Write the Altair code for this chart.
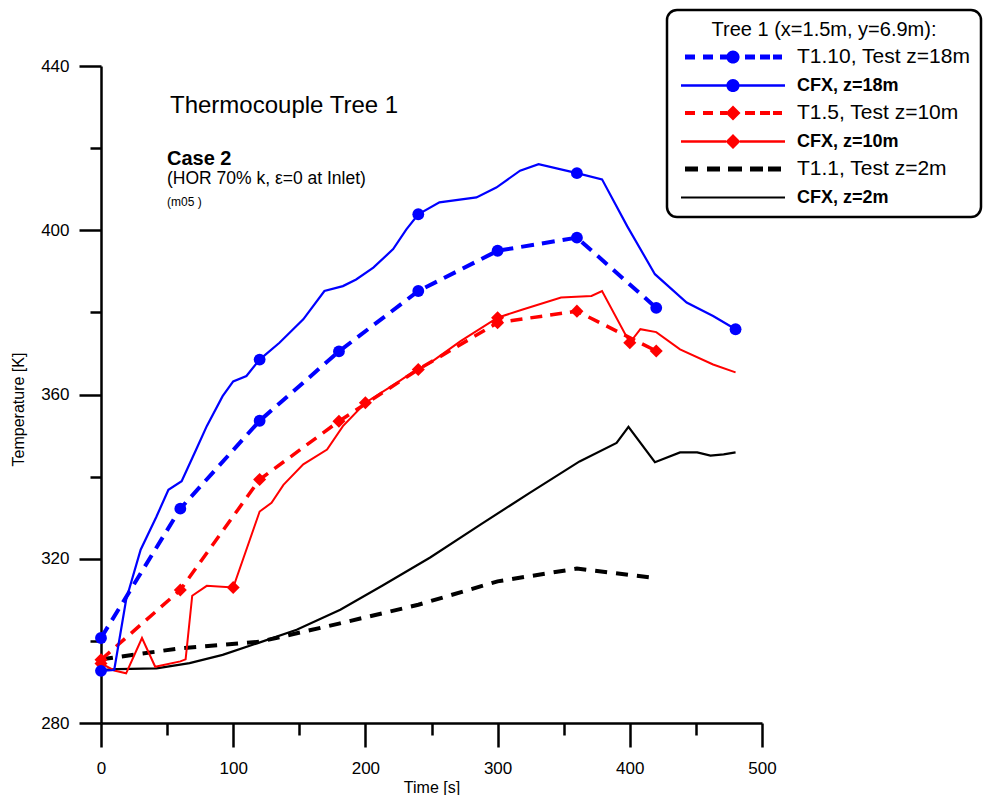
import altair as alt
import pandas as pd

FONT = "Liberation Sans"

# ---------------- data ----------------
series_names = [
    "T1.10, Test z=18m", "CFX, z=18m",
    "T1.5, Test z=10m", "CFX, z=10m",
    "T1.1, Test z=2m", "CFX, z=2m",
]
series_colors = ["#0000ff", "#0000ff", "#ff0000", "#ff0000", "#000000", "#000000"]

test_times = [0, 60, 120, 180, 240, 300, 360, 420]
test_z18 = [300.7, 332.2, 353.6, 370.5, 385.2, 395.0, 398.2, 381.1]
test_z10 = [295.4, 312.4, 339.3, 353.5, 366.1, 377.5, 380.3, 370.6]
test_z2 = [295.5, 298.2, 299.8, 304.2, 308.8, 314.5, 317.6, 315.3]

cfx_z18_t = [0, 10, 19, 30, 42, 51, 61, 72, 80, 92, 100, 110, 120, 135, 153, 169, 183,
             193, 206, 221, 231, 240, 256, 284, 299, 317, 331, 360, 379, 398, 419, 443,
             463, 480]
cfx_z18_v = [292.7, 292.9, 310.0, 322.2, 330.3, 336.8, 338.9, 346.6, 352.3, 359.6, 363.2,
             364.5, 368.5, 372.6, 378.3, 385.2, 386.4, 388.0, 390.9, 395.4, 400.2, 403.9,
             406.8, 408.0, 410.4, 414.5, 416.1, 413.9, 412.4, 401.0, 389.3, 382.4, 379.1,
             375.9]

cfx_z10_t = [0, 10, 19, 31, 41, 60, 64, 69, 80, 100, 120, 129, 138, 153, 171, 183, 200,
             224, 236, 249, 272, 300, 319, 348, 371, 379, 400, 408, 420, 438, 463, 480]
cfx_z10_v = [294.5, 292.8, 292.1, 300.7, 293.7, 295.0, 295.5, 311.0, 313.4, 313.0, 331.5,
             333.6, 338.0, 343.0, 346.6, 352.3, 358.0, 362.9, 365.5, 367.7, 373.0, 378.7,
             380.7, 383.6, 384.0, 385.2, 372.6, 375.9, 375.2, 371.0, 367.3, 365.4]

cfx_z2_t = [0, 12, 42, 67, 92, 118, 148, 181, 213, 249, 287, 324, 362, 390, 399, 419, 438,
            451, 461, 471, 480]
cfx_z2_v = [292.9, 293.1, 293.3, 294.6, 296.6, 299.4, 302.7, 307.6, 313.5, 320.3, 328.3,
            336.0, 343.7, 348.2, 352.1, 343.5, 345.9, 345.9, 345.1, 345.4, 345.9]

cfx_z18_marker_times = [0, 120, 240, 360, 480]
cfx_z10_marker_times = [0, 100, 200, 300, 400]

x_ticks = list(range(0, 501, 50))
y_ticks = list(range(280, 441, 20))

# ---------------- table ----------------
series_data = [
    (series_names[0], test_times, test_z18),
    (series_names[1], cfx_z18_t, cfx_z18_v),
    (series_names[2], test_times, test_z10),
    (series_names[3], cfx_z10_t, cfx_z10_v),
    (series_names[4], test_times, test_z2),
    (series_names[5], cfx_z2_t, cfx_z2_v),
]
rows = []
for name, ts, vs in series_data:
    for t, v in zip(ts, vs):
        rows.append({"series": name, "time": t, "temp": v})
df = pd.DataFrame(rows)

# ---------------- legend symbols (custom paths) ----------------
LEG_PAD = 10
R = 12.0                    # px per path unit (symbolSize 576 -> sqrt/2 = 12)
C = 667.0 + LEG_PAD + 12.0  # page x of the symbol centre


def _u(px):
    return f"{(px - C) / R:.4f}"


def rect(x0, x1, hw):
    return (f"M{_u(x0)},{-hw / R:.4f}H{_u(x1)}V{hw / R:.4f}H{_u(x0)}Z")


def circle(cx, r):
    rr = f"{r / R:.4f}"
    return (f"M{_u(cx - r)},0A{rr},{rr} 0 1 1 {_u(cx + r)},0"
            f"A{rr},{rr} 0 1 1 {_u(cx - r)},0Z")


def diamond(cx, r):
    return (f"M{_u(cx - r)},0L{_u(cx)},{-r / R:.4f}L{_u(cx + r)},0"
            f"L{_u(cx)},{r / R:.4f}Z")


dash_marker = [(685, 695), (703, 713), (720, 727), (745, 755), (760, 770), (773, 782)]
dash_plain = [(685, 698), (707, 720), (728, 742), (750, 763), (768, 781)]

sym_test18 = "".join(rect(a, b, 2.4) for a, b in dash_marker) + circle(733, 6.6)
sym_cfx18 = rect(681, 727, 1.3) + rect(739, 785, 1.3) + circle(733, 6.6)
sym_test10 = "".join(rect(a, b, 2.0) for a, b in dash_marker) + diamond(733, 7.5)
sym_cfx10 = rect(681, 726, 1.3) + rect(740, 785, 1.3) + diamond(733, 7.5)
sym_test2 = "".join(rect(a, b, 2.4) for a, b in dash_plain)
sym_cfx2 = rect(681, 785, 1.1)
symbol_paths = [sym_test18, sym_cfx18, sym_test10, sym_cfx10, sym_test2, sym_cfx2]

# ---------------- encodings ----------------
x_axis = alt.Axis(
    values=x_ticks, title="Time [s]", orient="bottom",
    labelExpr="datum.value % 100 === 0 ? datum.label : ''",
    tickSize={"condition": {"test": "datum.value % 100 === 0", "value": 24}, "value": 12},
    labelPadding=13, labelFlush=False, labelOverlap=False, grid=False,
    titleY=64, titleBaseline="middle",
)
y_axis = alt.Axis(
    values=y_ticks, title="Temperature [K]", orient="left",
    labelExpr="datum.value % 40 === 0 ? datum.label : ''",
    tickSize={"condition": {"test": "datum.value % 40 === 0", "value": 22}, "value": 11},
    labelPadding=10, labelFlush=False, labelOverlap=False, grid=False,
    titleX=-83, titleY=343, titleBaseline="middle", titleAngle=270,
)
X = alt.X("time:Q", scale=alt.Scale(domain=[0, 500], nice=False, zero=False), axis=x_axis)
Y = alt.Y("temp:Q", scale=alt.Scale(domain=[280, 440], nice=False, zero=False), axis=y_axis)

IS_CFX = "(datum.value ? indexof(datum.value, 'CFX') : 1) === 0"
legend = alt.Legend(
    title="Tree 1 (x=1.5m, y=6.9m):",
    orient="none", legendX=566, legendY=-56,
    padding=LEG_PAD, cornerRadius=10, strokeColor="black", fillColor="white",
    titleFont=FONT, titleFontSize=20, titleFontWeight="normal", titleColor="black",
    titleAnchor="middle", titleAlign="center", titleLimit=400, titlePadding=5,
    labelFont=FONT, labelColor="black", labelLimit=400, labelOffset=96,
    labelFontSize={"expr": f"{IS_CFX} ? 18 : 21"},
    labelFontWeight={"expr": f"{IS_CFX} ? 'bold' : 'normal'"},
    symbolSize=576, symbolStrokeWidth=0, symbolOffset=0, symbolOpacity=1,
    rowPadding=6.5,
)

base = alt.Chart(df)

legend_layer = base.mark_point(filled=True, opacity=1, size=0).encode(
    x=X, y=Y,
    color=alt.Color("series:N", scale=alt.Scale(domain=series_names, range=series_colors),
                    legend=legend),
    shape=alt.Shape("series:N", scale=alt.Scale(domain=series_names, range=symbol_paths),
                    legend=legend),
)

line_styles = {
    series_names[0]: dict(color="#0000ff", strokeWidth=4, strokeDash=[13, 8]),
    series_names[1]: dict(color="#0000ff", strokeWidth=2.2),
    series_names[2]: dict(color="#ff0000", strokeWidth=3.5, strokeDash=[12, 8]),
    series_names[3]: dict(color="#ff0000", strokeWidth=2.0),
    series_names[4]: dict(color="#000000", strokeWidth=4, strokeDash=[12, 9]),
    series_names[5]: dict(color="#000000", strokeWidth=2.2),
}

layers = [legend_layer]
for name in [series_names[4], series_names[5], series_names[2], series_names[3],
             series_names[0], series_names[1]]:
    layers.append(
        base.mark_line(**line_styles[name]).encode(x=X, y=Y, order="time:Q")
        .transform_filter(alt.datum.series == name)
    )

marker_specs = [
    (series_names[2], None, "diamond", "#ff0000", 170),
    (series_names[3], cfx_z10_marker_times, "diamond", "#ff0000", 170),
    (series_names[0], None, "circle", "#0000ff", 140),
    (series_names[1], cfx_z18_marker_times, "circle", "#0000ff", 140),
]
for name, times, shp, col, size in marker_specs:
    ch = base.mark_point(filled=True, opacity=1, shape=shp, color=col, size=size).encode(x=X, y=Y)
    ch = ch.transform_filter(alt.datum.series == name)
    if times is not None:
        ch = ch.transform_filter(alt.FieldOneOfPredicate(field="time", oneOf=times))
    layers.append(ch)


def note(text, x, y, size, weight="normal"):
    return alt.Chart(alt.Data(values=[{}])).mark_text(
        text=text, align="left", baseline="alphabetic", font=FONT,
        fontSize=size, fontWeight=weight, color="black",
    ).encode(x=alt.value(x), y=alt.value(y))


layers += [
    note("Thermocouple Tree 1", 69, 47, 24),
    note("Case 2", 66, 99, 20, "bold"),
    note("(HOR 70% k, \u03b5=0 at Inlet)", 66, 118, 17.5),
    note("(m05 )", 66, 140, 12),
]

chart = alt.layer(*layers).properties(
    width=661, height=657,
    padding={"left": 10, "top": 8, "right": 0, "bottom": 0},
    background="white",
).configure_view(stroke=None).configure_axis(
    domainColor="black", domainWidth=2.5, tickColor="black", tickWidth=2.5,
    labelFont=FONT, labelFontSize=17, labelColor="black",
    titleFont=FONT, titleFontSize=16, titleFontWeight="normal", titleColor="black",
).configure_legend(strokeWidth=2.5)

chart.save("out.html", embed_options={"renderer": "svg", "actions": False})
